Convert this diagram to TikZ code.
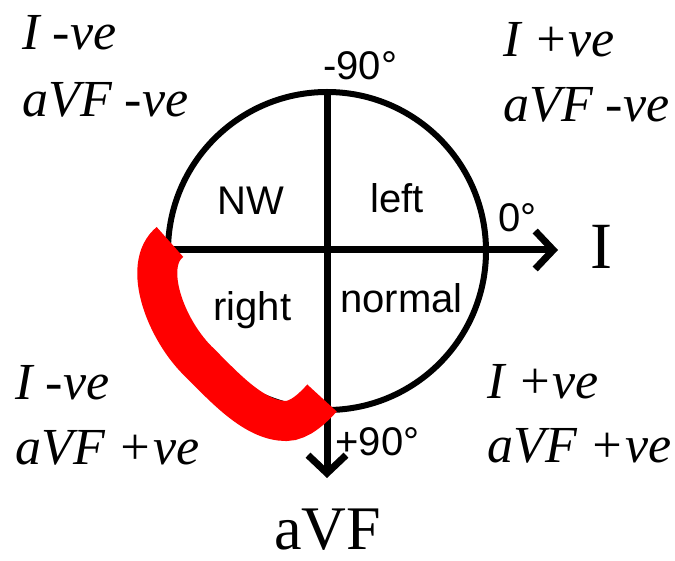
\documentclass[tikz,border=0pt]{standalone}
\usepackage{fontspec}
\setmainfont{Liberation Serif}
\setsansfont{Liberation Sans}
\usetikzlibrary{arrows.meta}

\begin{document}
\begin{tikzpicture}[x=0.5pt,y=-0.5pt,
  sector/.style={font=\sffamily\fontsize{20}{24}\selectfont, inner sep=0pt, anchor=base west},
  quadlbl/.style={font=\itshape\fontsize{26}{30}\selectfont, inner sep=0pt, anchor=base west},
  leadlbl/.style={font=\fontsize{33}{38}\selectfont, inner sep=0pt, anchor=base west},
  axisline/.style={line width=3.5pt, -{Straight Barb[length=9pt,width=19pt]}}]
  \useasboundingbox (0,0) rectangle (675,561);
  % axes and hexaxial circle
  \coordinate (O) at (327,251);
  \coordinate (Ileft) at (168,250);
  \coordinate (Itip) at (558,250);
  \coordinate (Vtop) at (327,90);
  \coordinate (Vtip) at (327,478);
  \draw[line width=3pt] (O) circle[radius=159];
  \draw[axisline] (Ileft) -- (Itip);
  \draw[axisline] (Vtop) -- (Vtip);

  % red band over the right-axis sector
  \draw[red, line width=20pt] (170,242) .. controls (141,265) and (166,331) .. (200,363)
    .. controls (225,388) and (255,421) .. (286,421)
    .. controls (300,421) and (314,407) .. (322,398);

  % sector and angle labels
  \node[sector] (nw) at (217,215) {NW};
  \node[sector] (lft) at (370,213) {left};
  \node[sector] (rgt) at (213,321) {right};
  \node[sector] (nrm) at (340,313) {normal};
  \node[sector] (m90) at (323,80) {-90°};
  \node[sector] (zero) at (498,232) {0°};
  \node[sector] (p90) at (335,455) {+90°};

  % lead names
  \node[leadlbl] (leadI) at (590,269) {I};
  \node[leadlbl, font=\fontsize{31}{36}\selectfont] (leadV) at (274,549) {aVF};

  % quadrant signs
  \node[quadlbl] (tlI) at (22,50) {I -ve};
  \node[quadlbl] (tlV) at (22,117) {aVF -ve};
  \node[quadlbl] (trI) at (503,57) {I +ve};
  \node[quadlbl] (trV) at (503,122) {aVF -ve};
  \node[quadlbl] (blI) at (15,400) {I -ve};
  \node[quadlbl] (blV) at (15,465) {aVF +ve};
  \node[quadlbl] (brI) at (487,399) {I +ve};
  \node[quadlbl] (brV) at (487,462) {aVF +ve};
\end{tikzpicture}
\end{document}
